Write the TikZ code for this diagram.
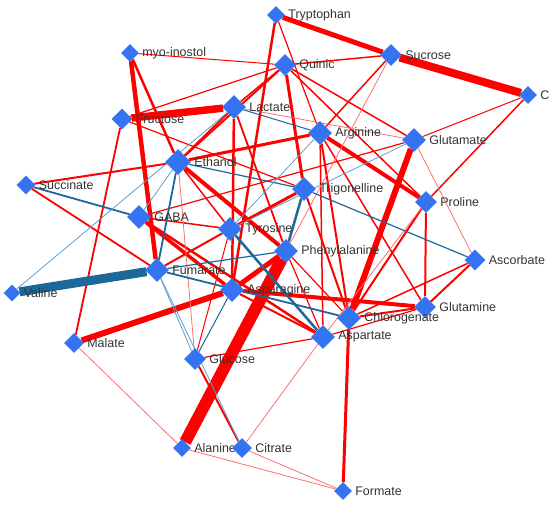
\documentclass[tikz,border=0pt]{standalone}
\usepackage{fontspec}
\setmainfont{Liberation Sans}
\usetikzlibrary{shapes.geometric, backgrounds}
\definecolor{nodeblue}{HTML}{3574F0}
\definecolor{posred}{HTML}{FF0000}
\definecolor{lightred}{HTML}{FF6E6E}
\definecolor{negblue}{HTML}{1C6898}
\definecolor{lightblue}{HTML}{5C9FD2}
\definecolor{labelgray}{HTML}{333333}
\tikzset{
  metab/.style={
    diamond, fill=nodeblue, draw=none,
    inner sep=0pt, minimum size=#1
  },
  metab/.default=20,
  lbl/.style={
    font=\fontsize{12.5}{14}\selectfont,
    text=labelgray, inner sep=1pt
  },
  pos/.style={draw=posred, line width=#1},
  neg/.style={draw=negblue, line width=#1},
  weakpos/.style={draw=lightred, line width=0.8pt},
  weakneg/.style={draw=lightblue, line width=0.8pt}
}

\begin{document}
\begin{tikzpicture}[x=1bp, y=-1bp, label distance=2pt]

  \useasboundingbox (0,0) rectangle (550,508);

  % ── Metabolites ───────────────────────────────────────────────────────
  \node[metab=18, label={[lbl]right:Tryptophan}]    (trp)  at (276,15)  {};
  \node[metab=18, label={[lbl]right:myo-inostol}]   (myo)  at (130,53)  {};
  \node[metab=22, label={[lbl]right:Quinic}]        (qui)  at (285,65)  {};
  \node[metab=22, label={[lbl]right:Sucrose}]       (suc)  at (391,55)  {};
  \node[metab=18, label={[lbl]right:C}]             (cc)   at (528,95)  {};
  \node[metab=24, label={[lbl]right:Lactate}]       (lac)  at (234,107) {};
  \node[metab=21, label={[lbl]right:Fructose}]      (fru)  at (122,119) {};
  \node[metab=24, label={[lbl]right:Arginine}]      (arg)  at (320,133) {};
  \node[metab=24, label={[lbl]right:Glutamate}]     (glu)  at (414,140) {};
  \node[metab=26, label={[lbl]right:Ethanol}]       (eth)  at (178,162) {};
  \node[metab=19, label={[lbl]right:Succinate}]     (sca)  at (26,185)  {};
  \node[metab=24, label={[lbl]right:Trigonelline}]  (tri)  at (304,189) {};
  \node[metab=22, label={[lbl]right:Proline}]       (pro)  at (426,202) {};
  \node[metab=24, label={[lbl]right:GABA}]          (gaba) at (139,217) {};
  \node[metab=24, label={[lbl]right:Tyrosine}]      (tyr)  at (230,229) {};
  \node[metab=24, label={[lbl]right:Phenylalanine}] (phe)  at (286,251) {};
  \node[metab=21, label={[lbl]right:Ascorbate}]     (asc)  at (475,260) {};
  \node[metab=24, label={[lbl]right:Fumarate}]      (fum)  at (157,270) {};
  \node[metab=17, label={[lbl]right:Valine}]        (val)  at (12,293)  {};
  \node[metab=24, label={[lbl]right:Asparagine}]    (asn)  at (232,290) {};
  \node[metab=22, label={[lbl]right:Glutamine}]     (gln)  at (425,307) {};
  \node[metab=24, label={[lbl]right:Chlorogenate}]  (chl)  at (349,318) {};
  \node[metab=24, label={[lbl]right:Aspartate}]     (asp)  at (323,337) {};
  \node[metab=20, label={[lbl]right:Malate}]        (mal)  at (74,343)  {};
  \node[metab=22, label={[lbl]right:Glucose}]       (glc)  at (195,359) {};
  \node[metab=18, label={[lbl]right:Alanine}]       (ala)  at (182,448) {};
  \node[metab=20, label={[lbl]right:Citrate}]       (cit)  at (242,448) {};
  \node[metab=18, label={[lbl]right:Formate}]       (frm)  at (343,491) {};

  \begin{scope}[on background layer]
    % ── Positive correlations ───────────────────────────────────────────
    \foreach \a/\b/\w in {phe/ala/12, suc/cc/8, fru/lac/7.5, glu/chl/6,
        mal/asn/6, trp/suc/5, asn/phe/5, myo/fum/4.5, asn/gln/4,
        arg/pro/4, eth/phe/4, gaba/asn/3.5, chl/frm/3, qui/tri/3,
        tyr/tri/3, eth/arg/3}
      \draw[pos=\w pt] (\a) -- (\b);
    \foreach \a/\b/\w in {trp/asn/2.5, myo/eth/2.5, lac/asn/2.5,
        gaba/asp/2.5, eth/sca/2, lac/eth/2, qui/eth/2, sca/fum/1.8,
        tyr/fum/2, arg/chl/2, tri/chl/2, pro/chl/2, pro/gln/2,
        chl/gln/2, gln/asc/2, glc/cit/2, asn/asp/2, fru/mal/1.8,
        lac/phe/1.8, trp/arg/1.2, fru/qui/1.2, fru/tri/1.2, qui/suc/1.5,
        qui/lac/1.5, qui/glu/1.5, qui/pro/1.5, suc/arg/1.5, eth/tyr/1.5,
        gaba/tyr/1.5, gaba/glu/1.2, tyr/glc/1, arg/asp/1.5, arg/gln/1.5,
        pro/cc/1.5, chl/asc/1.5, phe/asp/1.2, phe/chl/1.2, gln/asp/1.2,
        asp/glc/1.2, myo/qui/1, glu/cc/1}
      \draw[pos=\w pt] (\a) -- (\b);
    \foreach \a/\b in {lac/glu, eth/glc, glu/asc, pro/asp, suc/phe,
        asp/cit, mal/ala, ala/frm, cit/frm}
      \draw[weakpos] (\a) -- (\b);

    % ── Negative correlations ───────────────────────────────────────────
    \foreach \a/\b/\w in {val/fum/9, tyr/asp/2.5, tri/phe/2.5,
        sca/gaba/1.8, eth/fum/1.8, fum/chl/1.8, eth/tri/1.2, tri/asc/1.2,
        fum/phe/1.2, lac/arg/1, asn/glc/1}
      \draw[neg=\w pt] (\a) -- (\b);
    \foreach \a/\b in {val/lac, eth/gaba, fum/glc, fum/cit, glu/tyr, arg/tyr}
      \draw[weakneg] (\a) -- (\b);
  \end{scope}

\end{tikzpicture}
\end{document}
